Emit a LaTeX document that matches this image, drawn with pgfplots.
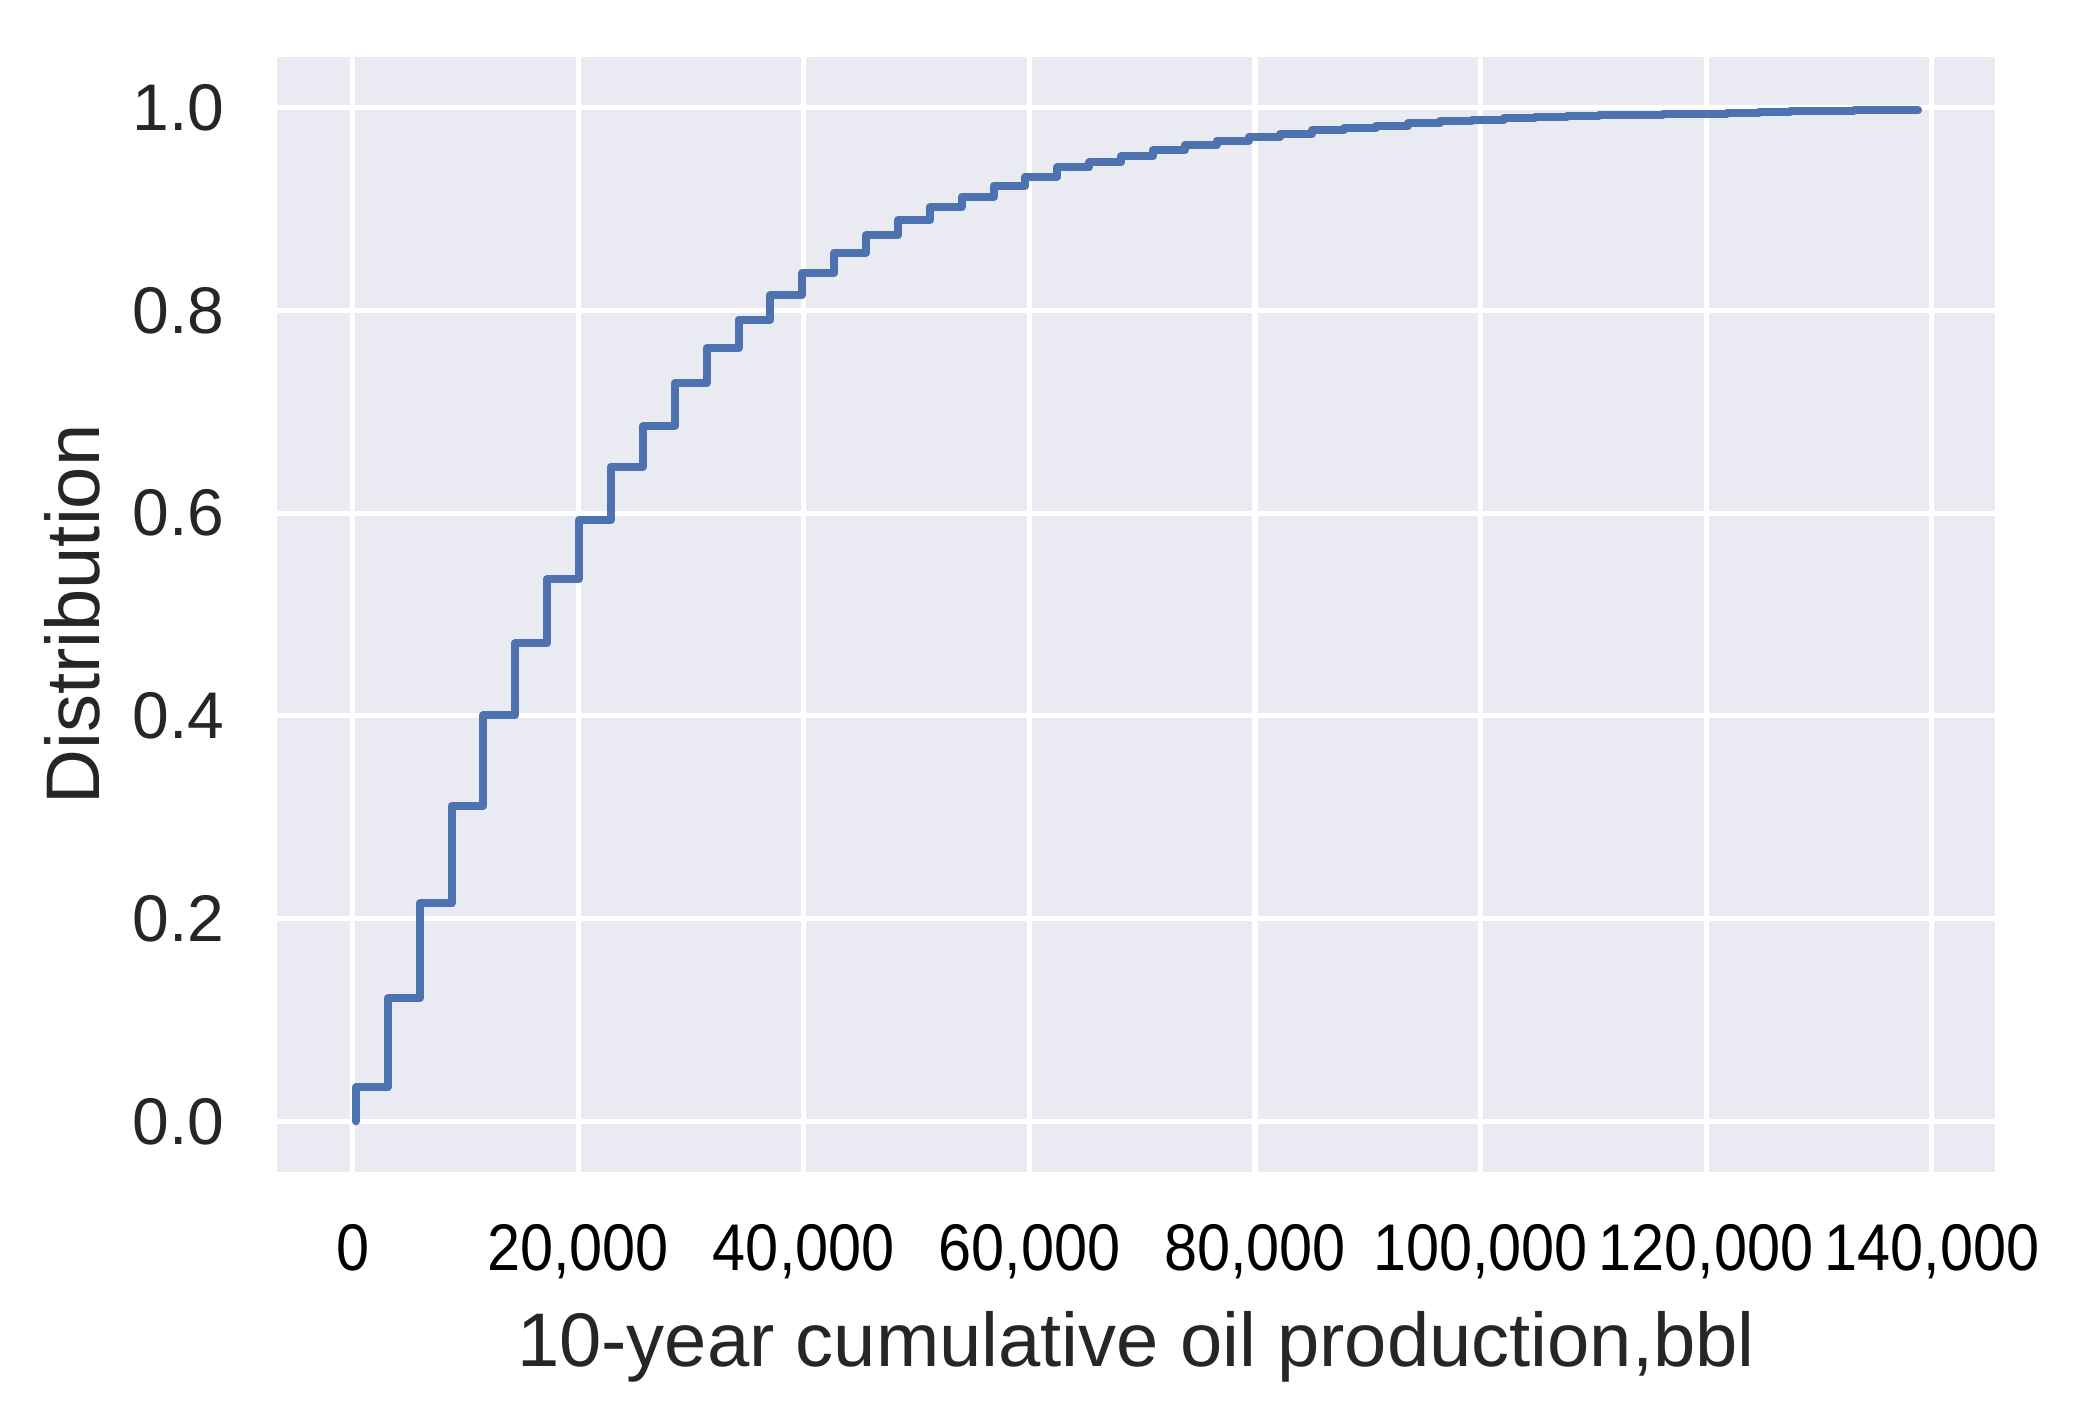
\documentclass[border=0pt]{standalone}
\usepackage{fontspec}
\setmainfont{Liberation Sans}
\usepackage{graphicx}
\usepackage{pgfplots}
\pgfplotsset{compat=1.18}
\usepackage{pgfplotstable}
\definecolor{sbbg}{HTML}{EAEAF2}
\definecolor{sbblue}{HTML}{4C72B0}
\definecolor{sbtext}{HTML}{262626}
\pgfplotstableread{
x v
300 0
300 0.0336
3126 0.1216
5952 0.2149
8778 0.3113
11604 0.4005
14430 0.4715
17256 0.5350
20082 0.5930
22908 0.6460
25734 0.6860
28560 0.7280
31386 0.7630
34212 0.7910
37038 0.8150
39864 0.8370
42690 0.8570
45516 0.8740
48342 0.8890
51168 0.9020
53994 0.9120
56820 0.9230
59646 0.9320
62472 0.9410
65298 0.9460
68124 0.9520
70950 0.9580
73776 0.9635
76602 0.9674
79428 0.9713
82254 0.9740
85080 0.9780
87906 0.9795
90732 0.9817
93558 0.9847
96384 0.9866
99210 0.9880
102036 0.9896
104862 0.9910
107688 0.9918
110514 0.9925
113340 0.9932
116166 0.9940
118992 0.9940
121818 0.9945
124644 0.9955
127470 0.9968
130296 0.9968
133122 0.9975
135948 0.9975
138774 0.9975
}\cdfdata
\begin{document}
\begin{tikzpicture}
\useasboundingbox (-69.25bp,-58.5bp) rectangle (450.25bp,293bp);
\begin{axis}[
  at={(0,0)}, anchor=south west,
  scale only axis,
  width=429.5bp, height=278.75bp,
  xmin=-6700, xmax=145600,
  ymin=-0.05, ymax=1.05,
  axis background/.style={fill=sbbg},
  axis line style={draw=none},
  major tick length=0pt,
  grid=major,
  major grid style={white, line width=1.3bp},
  xtick={0,20000,40000,60000,80000,100000,120000,140000},
  xticklabels={0,{20,000},{40,000},{60,000},{80,000},{100,000},{120,000},{140,000}},
  ytick={0,0.2,0.4,0.6,0.8,1.0},
  yticklabels={0.0,0.2,0.4,0.6,0.8,1.0},
  scaled x ticks=false,
  scaled y ticks=false,
  xticklabel style={font=\fontsize{16.5bp}{20bp}\selectfont, text=black, inner sep=0pt, anchor=north, yshift=-13bp, xscale=0.9},
  yticklabel style={font=\fontsize{16.5bp}{20bp}\selectfont, text=sbtext, inner sep=0pt, anchor=east, xshift=-13bp},
  every axis x label/.style={at={(axis description cs:0.5,-0.1247)}, anchor=north, inner sep=0pt, font=\fontsize{19bp}{23bp}\selectfont, text=sbtext},
  every axis y label/.style={at={(axis description cs:-0.1356,0.5)}, rotate=90, anchor=north, inner sep=0pt, font=\fontsize{19bp}{23bp}\selectfont, text=sbtext},
  xlabel={10-year cumulative oil production,bbl},
  ylabel={Distribution},
  clip=false,
]
\addplot[const plot mark left, color=sbblue, line width=2bp, line cap=round, line join=round] table[x=x, y=v] {\cdfdata};
\end{axis}
\end{tikzpicture}
\end{document}
